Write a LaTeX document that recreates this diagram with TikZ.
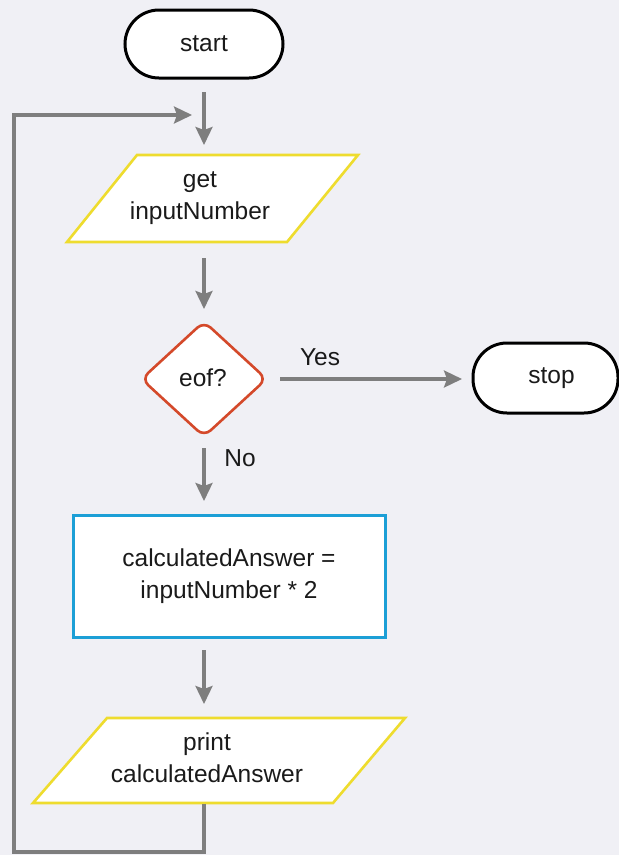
\documentclass[tikz,border=0pt]{standalone}
\usepackage{fontspec}
\setmainfont{Liberation Sans}
\usetikzlibrary{arrows.meta,shapes.geometric}
\definecolor{bgcol}{HTML}{F0F0F5}
\definecolor{flowgray}{HTML}{7E7E7E}
\definecolor{inoutyellow}{HTML}{EEDC2E}
\definecolor{decred}{HTML}{D4492A}
\definecolor{procblue}{HTML}{1C9FD6}
\definecolor{txt}{HTML}{1A1A1A}
\tikzset{
  every node/.style={font=\fontsize{24.5}{32}\selectfont, text=txt},
  terminal/.style={draw=black, line width=3pt, fill=white, rounded corners=34pt, inner sep=0pt},
  procbox/.style={draw=procblue, line width=3pt, fill=white, inner sep=0pt, align=center},
  decision/.style={diamond, draw=decred, line width=2.6pt, fill=white, rounded corners=9pt, inner sep=0pt},
  iobox/.style={draw=inoutyellow, line width=2.6pt, fill=white, line join=miter},
  flow/.style={draw=flowgray, line width=3.2pt, -{Stealth[length=18pt,width=17pt,inset=3pt]}},
  lbl/.style={inner sep=0pt}
}
\begin{document}
\begin{tikzpicture}[x=1pt,y=-1pt]
  \fill[bgcol] (0,0) rectangle (619,855);
  \useasboundingbox (0,0) rectangle (619,855);

  % terminals
  \node[terminal, minimum width=158pt, minimum height=68pt] (start) at (204,44) {start};
  \node[terminal, minimum width=145pt, minimum height=70pt] (stop) at (545.5,378) {\hspace*{12pt}stop};

  % input parallelogram
  \draw[iobox] (137,155) -- (358,155) -- (287,242) -- (67,242) -- cycle;
  \node[align=center, lbl] (get) at (200,198) {get\\inputNumber};

  % decision
  \node[decision, minimum width=126pt, minimum height=116pt] (eof) at (204,379) {};
  \node[lbl] (eoftext) at (203,378) {eof?};

  % process
  \node[procbox, minimum width=312pt, minimum height=122pt] (calc) at (229,576)
       {calculatedAnswer =\\inputNumber * 2};

  % output parallelogram
  \draw[iobox] (107,718) -- (405,718) -- (333,803) -- (33,803) -- cycle;
  \node[align=center, lbl] (print) at (207,758) {print\\calculatedAnswer};

  % connector end points
  \coordinate (a1s) at (204,92);   \coordinate (a1e) at (204,145);
  \coordinate (a2s) at (204,258);  \coordinate (a2e) at (204,309);
  \coordinate (yess) at (280,379); \coordinate (yese) at (462,379);
  \coordinate (nos) at (204,448);  \coordinate (noe) at (204,501);
  \coordinate (a4s) at (204,650);  \coordinate (a4e) at (204,704);
  \coordinate (loops) at (204,804);
  \coordinate (loopb) at (204,852);
  \coordinate (loopl) at (14,852);
  \coordinate (loopt) at (14,115);
  \coordinate (loope) at (192,115);

  % connectors
  \draw[flow] (a1s) -- (a1e);
  \draw[flow] (a2s) -- (a2e);
  \draw[flow] (yess) -- (yese);
  \draw[flow] (nos) -- (noe);
  \draw[flow] (a4s) -- (a4e);
  \draw[flow, line join=miter] (loops) -- (loopb) -- (loopl) -- (loopt) -- (loope);

  % branch labels
  \node[lbl] (yes) at (320,357) {Yes};
  \node[lbl] (no) at (240,458) {No};
\end{tikzpicture}
\end{document}
